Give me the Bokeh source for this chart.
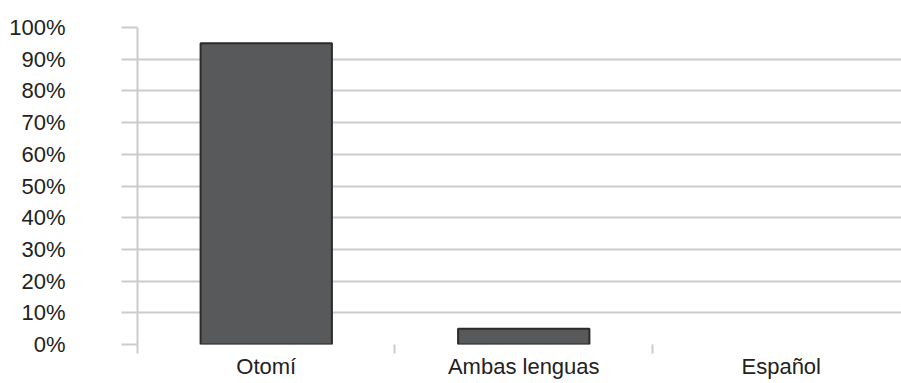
from bokeh.plotting import figure
from bokeh.models import Range1d, FixedTicker, NumeralTickFormatter, ColumnDataSource
from bokeh.embed import file_html
from bokeh.resources import INLINE

categories = ["Otomí", "Ambas lenguas", "Español"]
values = [0.95, 0.05, 0.0]
y_ticks = [0.0, 0.1, 0.2, 0.3, 0.4, 0.5, 0.6, 0.7, 0.8, 0.9, 1.0]

centers = [i + 0.5 for i in range(len(categories))]
bounds = list(range(len(categories) + 1))
outline = ["#2b2b2b" if v > 0 else None for v in values]

src = ColumnDataSource(dict(x=centers, top=values, cat=categories, lc=outline))

p = figure(width=901, height=383, output_backend="svg", toolbar_location=None,
           x_range=Range1d(0, 2.967), y_range=Range1d(0, 1),
           min_border_left=137, min_border_right=0, min_border_top=27, min_border_bottom=39)
p.outline_line_color = None
p.background_fill_color = "white"

p.vbar(x="x", top="top", bottom=0, width=0.51, source=src,
       fill_color="#58595b", line_color="lc", line_width=2)

font = "Liberation Sans"
gray = "#cccccc"

p.xgrid.grid_line_color = None
p.ygrid.grid_line_color = gray
p.ygrid.grid_line_width = 2
p.ygrid.ticker = FixedTicker(ticks=y_ticks)

ya = p.yaxis[0]
ya.ticker = FixedTicker(ticks=y_ticks)
ya.formatter = NumeralTickFormatter(format="0%")
ya.axis_line_color = gray
ya.axis_line_width = 2
ya.major_tick_line_color = gray
ya.major_tick_line_width = 2
ya.major_tick_out = 16
ya.major_tick_in = 0
ya.minor_tick_line_color = None
ya.major_label_standoff = 56
ya.major_label_text_font = font
ya.major_label_text_font_size = "22px"
ya.major_label_text_color = "#222222"

xa = p.xaxis[0]
xa.ticker = FixedTicker(ticks=centers, minor_ticks=bounds)
xa.major_label_overrides = {c: n for c, n in zip(centers, categories)}
xa.axis_line_color = None
xa.major_tick_line_color = None
xa.major_tick_out = 0
xa.major_tick_in = 0
xa.minor_tick_line_color = gray
xa.minor_tick_line_width = 2
xa.minor_tick_out = 9
xa.minor_tick_in = 0
xa.major_label_standoff = 0
xa.major_label_text_font = font
xa.major_label_text_font_size = "22px"
xa.major_label_text_color = "#222222"

open("out.html", "w").write(file_html(p, INLINE))
